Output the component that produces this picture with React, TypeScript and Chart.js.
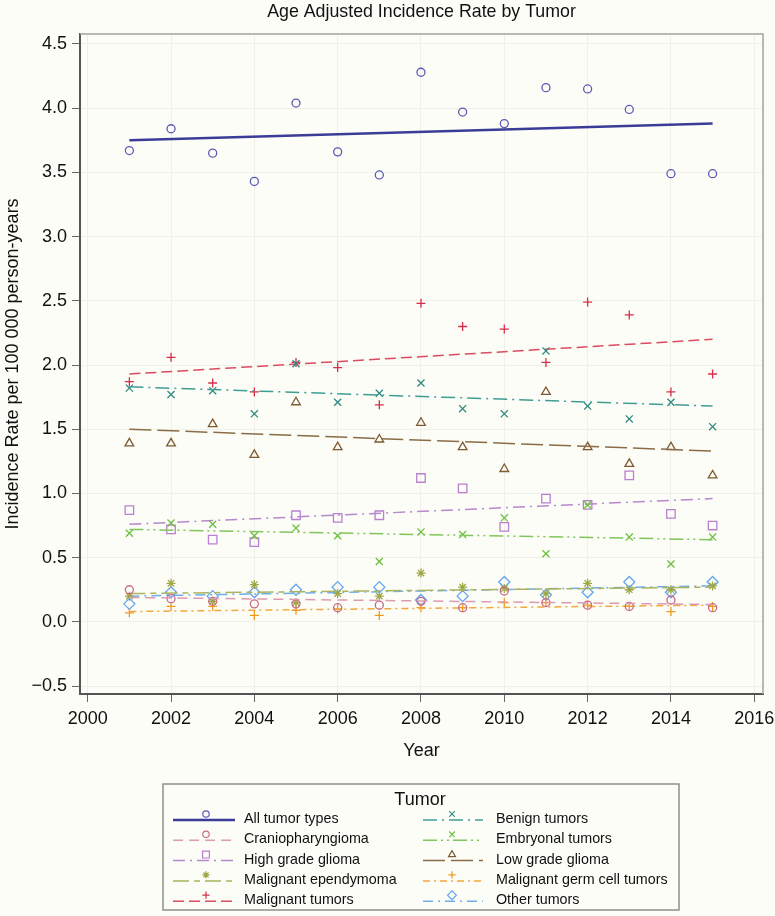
import React, { useEffect, useRef } from 'react';
import { Chart, registerables } from 'chart.js';
import { drawPoint } from 'chart.js/helpers';

Chart.register(...registerables);

// ---------- data ----------
const years = [2001, 2002, 2003, 2004, 2005, 2006, 2007, 2008, 2009, 2010, 2011, 2012, 2013, 2014, 2015];
const xTicks = [2000, 2002, 2004, 2006, 2008, 2010, 2012, 2014, 2016];
const yTicks = [-0.5, 0, 0.5, 1, 1.5, 2, 2.5, 3, 3.5, 4, 4.5];

const tumorNames = [
  'All tumor types',
  'Benign tumors',
  'Craniopharyngioma',
  'Embryonal tumors',
  'High grade glioma',
  'Low grade glioma',
  'Malignant ependymoma',
  'Malignant germ cell tumors',
  'Malignant tumors',
  'Other tumors',
];

const allTumors = [3.67, 3.84, 3.65, 3.43, 4.04, 3.66, 3.48, 4.28, 3.97, 3.88, 4.16, 4.15, 3.99, 3.49, 3.49];
const benign = [1.82, 1.77, 1.80, 1.62, 2.01, 1.71, 1.78, 1.86, 1.66, 1.62, 2.11, 1.68, 1.58, 1.71, 1.52];
const cranio = [0.25, 0.18, 0.16, 0.14, 0.14, 0.11, 0.13, 0.16, 0.11, 0.24, 0.15, 0.13, 0.12, 0.17, 0.11];
const embryonal = [0.69, 0.77, 0.76, 0.67, 0.73, 0.67, 0.47, 0.70, 0.68, 0.81, 0.53, 0.91, 0.66, 0.45, 0.66];
const highGrade = [0.87, 0.72, 0.64, 0.62, 0.83, 0.81, 0.83, 1.12, 1.04, 0.74, 0.96, 0.91, 1.14, 0.84, 0.75];
const lowGrade = [1.39, 1.39, 1.54, 1.30, 1.71, 1.36, 1.42, 1.55, 1.36, 1.19, 1.79, 1.36, 1.23, 1.36, 1.14];
const ependymoma = [0.20, 0.30, 0.16, 0.29, 0.15, 0.22, 0.20, 0.38, 0.27, 0.26, 0.22, 0.30, 0.25, 0.25, 0.28];
const germCell = [0.07, 0.12, 0.12, 0.05, 0.09, 0.10, 0.05, 0.11, 0.11, 0.15, 0.15, 0.13, 0.12, 0.08, 0.12];
const malignant = [1.87, 2.06, 1.86, 1.79, 2.02, 1.98, 1.69, 2.48, 2.30, 2.28, 2.02, 2.49, 2.39, 1.79, 1.93];
const other = [0.14, 0.23, 0.20, 0.23, 0.25, 0.27, 0.27, 0.17, 0.20, 0.31, 0.21, 0.23, 0.31, 0.23, 0.31];

const seriesValues = [allTumors, benign, cranio, embryonal, highGrade, lowGrade, ependymoma, germCell, malignant, other];

// fitted trend line values at first and last year
const trendStart = [3.75, 1.83, 0.19, 0.72, 0.76, 1.50, 0.22, 0.08, 1.93, 0.20];
const trendEnd = [3.88, 1.68, 0.135, 0.64, 0.96, 1.33, 0.27, 0.13, 2.20, 0.28];

// ---------- styles ----------
const lineColors = ['#3b3b98', '#3f9d94', '#dc9bb1', '#80c65c', '#b688cc', '#8a6c47', '#abb35e', '#f2a83c', '#dd4b5e', '#6eaeea'];
const markerColors = ['#5a5ab5', '#2f8a80', '#c8698b', '#6cbf3f', '#b97fd0', '#7d5a30', '#9ea646', '#f09a20', '#d62f48', '#62a5ee'];
const pointStyles = ['circle', 'crossRot', 'circle', 'crossRot', 'rect', 'triangle', 'star', 'cross', 'cross', 'rectRot'];
const pointRadii = [4, 5, 4, 5, 6, 5, 4.5, 4.5, 4.5, 5.5];
const dashes = [
  [],
  [14, 5, 2, 5],
  [10, 6],
  [14, 4, 2, 4, 2, 4],
  [12, 5, 2, 5],
  [22, 6],
  [16, 5, 6, 5],
  [7, 4, 2, 4],
  [11, 5],
  [10, 5, 2, 5],
];
const lineWidths = [2.5, 1.5, 1.5, 1.5, 1.5, 1.5, 1.5, 1.5, 1.5, 1.5];

const FONT = '"Liberation Sans", Arial, Helvetica, sans-serif';
const BG = '#fdfdf8';

const bgPlugin = {
  id: 'bg',
  beforeDraw(chart: any) {
    const ctx = chart.ctx;
    ctx.save();
    ctx.fillStyle = BG;
    ctx.fillRect(0, 0, chart.width, chart.height);
    ctx.restore();
  },
};

const framePlugin = {
  id: 'frame',
  afterDraw(chart: any) {
    const { ctx, chartArea } = chart;
    ctx.save();
    ctx.strokeStyle = '#a3a39d';
    ctx.lineWidth = 1.5;
    ctx.beginPath();
    ctx.moveTo(chartArea.left, chartArea.top);
    ctx.lineTo(chartArea.right, chartArea.top);
    ctx.lineTo(chartArea.right, chartArea.bottom);
    ctx.stroke();
    ctx.restore();
  },
};

const legendPlugin = {
  id: 'tumorLegend',
  afterDraw(chart: any) {
    const ctx = chart.ctx;
    const boxL = 163, boxT = 784, boxW = 516, boxH = 126;
    ctx.save();
    ctx.strokeStyle = '#8f8f8a';
    ctx.lineWidth = 1.5;
    ctx.strokeRect(boxL, boxT, boxW, boxH);
    ctx.fillStyle = '#111';
    ctx.font = `18px ${FONT}`;
    ctx.textAlign = 'center';
    ctx.textBaseline = 'middle';
    ctx.fillText('Tumor', boxL + boxW / 2 - 1, boxT + 16);
    ctx.font = `14.3px ${FONT}`;
    ctx.textAlign = 'left';
    const cols = [
      { l0: 173, l1: 235, mk: 206, tx: 244 },
      { l0: 423, l1: 483, mk: 452, tx: 496 },
    ];
    tumorNames.forEach((name, i) => {
      const col = cols[i % 2];
      const row = Math.floor(i / 2);
      const y = 820 + row * 20.3;
      ctx.save();
      ctx.strokeStyle = lineColors[i];
      ctx.lineWidth = lineWidths[i];
      ctx.setLineDash(dashes[i]);
      ctx.beginPath();
      ctx.moveTo(col.l0, y);
      ctx.lineTo(col.l1, y);
      ctx.stroke();
      ctx.setLineDash([]);
      ctx.strokeStyle = markerColors[i];
      ctx.fillStyle = 'rgba(0,0,0,0)';
      ctx.lineWidth = 1.2;
      drawPoint(ctx, { pointStyle: pointStyles[i], radius: pointRadii[i] * 0.8, borderWidth: 1.2, rotation: 0 } as any, col.mk, y - 6);
      ctx.restore();
      ctx.fillStyle = '#111';
      ctx.fillText(name, col.tx, y - 1);
    });
    ctx.restore();
  },
};

export default function App() {
  const ref = useRef<HTMLCanvasElement | null>(null);

  useEffect(() => {
    document.body.style.margin = '0';
    document.body.style.background = BG;
    const canvas = ref.current;
    if (!canvas) return;
    Chart.defaults.font.family = FONT;

    const datasets: any[] = [];
    tumorNames.forEach((name, i) => {
      datasets.push({
        label: name + ' trend',
        data: [
          { x: years[0], y: trendStart[i] },
          { x: years[years.length - 1], y: trendEnd[i] },
        ],
        showLine: true,
        borderColor: lineColors[i],
        borderWidth: lineWidths[i],
        borderDash: dashes[i],
        pointRadius: 0,
        fill: false,
      });
      datasets.push({
        label: name,
        data: years.map((yr, k) => ({ x: yr, y: seriesValues[i][k] })),
        showLine: false,
        pointStyle: pointStyles[i],
        pointRadius: pointRadii[i],
        pointBorderColor: markerColors[i],
        pointBackgroundColor: 'rgba(0,0,0,0)',
        pointBorderWidth: 1.3,
      });
    });

    const chart = new Chart(canvas, {
      type: 'scatter',
      data: { datasets },
      options: {
        animation: false,
        responsive: false,
        devicePixelRatio: 1,
        layout: { padding: { top: 0, right: 12, bottom: 150, left: 0 } },
        plugins: {
          legend: { display: false },
          tooltip: { enabled: false },
          title: {
            display: true,
            text: 'Age Adjusted Incidence Rate by Tumor',
            fullSize: false,
            color: '#111',
            font: { size: 17.8, weight: 'normal', family: FONT },
            padding: { top: 1, bottom: 11.6 },
          },
        },
        scales: {
          x: {
            type: 'linear',
            min: 1999.815,
            max: 2016.21,
            afterBuildTicks: (scale: any) => {
              scale.ticks = xTicks.map((v) => ({ value: v }));
            },
            afterFit: (scale: any) => {
              scale.height = 72;
              scale.paddingLeft = 0;
              scale.paddingRight = 0;
            },
            grid: { color: '#f0f0ea', tickColor: '#666', tickLength: 8, lineWidth: 1 },
            border: { color: '#555', width: 2 },
            ticks: {
              color: '#111',
              font: { size: 18, family: FONT },
              padding: 6,
              maxRotation: 0,
              callback: (v: any) => String(v),
            },
            title: {
              display: true,
              text: 'Year',
              color: '#111',
              font: { size: 18, family: FONT },
              padding: { top: 0, bottom: 4 },
            },
          },
          y: {
            type: 'linear',
            min: -0.562,
            max: 4.578,
            afterBuildTicks: (scale: any) => {
              scale.ticks = yTicks.map((v) => ({ value: v }));
            },
            afterFit: (scale: any) => {
              scale.width = 80;
              scale.paddingTop = 0;
              scale.paddingBottom = 0;
            },
            grid: { color: '#f0f0ea', tickColor: '#666', tickLength: 8, lineWidth: 1 },
            border: { color: '#555', width: 2 },
            ticks: {
              color: '#111',
              font: { size: 18, family: FONT },
              padding: 5,
              callback: (v: any) => Number(v).toFixed(1).replace('-', '\u2212'),
            },
            title: {
              display: true,
              text: 'Incidence Rate per 100 000 person-years',
              color: '#111',
              font: { size: 18, family: FONT },
              padding: { top: 2, bottom: 0 },
            },
          },
        },
      } as any,
      plugins: [bgPlugin, framePlugin, legendPlugin],
    });
    return () => chart.destroy();
  }, []);

  return (
    <div style={{ width: 775, height: 916, background: BG }}>
      <canvas ref={ref} width={775} height={916} style={{ display: 'block', width: 775, height: 916 }} />
    </div>
  );
}
